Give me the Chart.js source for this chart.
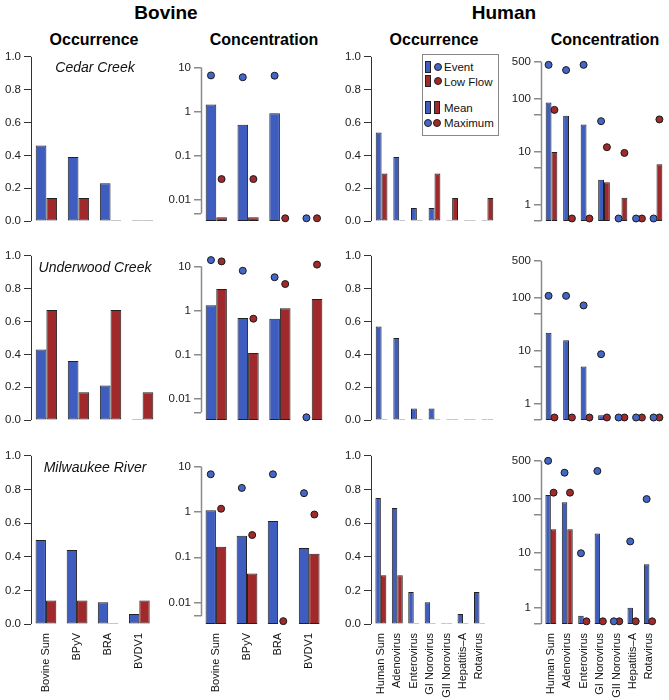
<!DOCTYPE html>
<html>
<head>
<meta charset="utf-8">
<script src="https://cdn.jsdelivr.net/npm/chart.js@4.4.1/dist/chart.umd.min.js"></script>
<style>
body { margin: 0; background: #fff; font-family: "Liberation Sans", Arial, sans-serif; }
#wrap { position: relative; width: 669px; height: 700px; overflow: hidden; }
canvas { position: absolute; }
.t { position: absolute; transform: translate(-50%, -50%); white-space: nowrap; color: #000; }
.big { font-size: 19px; font-weight: bold; }
.sub { font-size: 16px; font-weight: bold; }
.site { font-size: 14px; font-style: italic; color: #111; }
#legend { position: absolute; left: 422px; top: 54px; width: 75px; height: 80px; border: 1px solid #888; background: #fff; z-index: 5; font-size: 11.5px; color: #111; }
#legend span { position: absolute; }
.sw { width: 4px; border: 1px solid #222; }
.dot { width: 6px; height: 6px; border-radius: 50%; border: 1px solid #222; }
.lt { transform: translateY(-50%); white-space: nowrap; }
</style>
</head>
<body>
<div id="wrap">
  <div class="t big" style="left:166px; top:13px;">Bovine</div>
  <div class="t big" style="left:504px; top:13px;">Human</div>
  <div class="t sub" style="left:94px; top:40px;">Occurrence</div>
  <div class="t sub" style="left:264px; top:40px;">Concentration</div>
  <div class="t sub" style="left:434px; top:40px;">Occurrence</div>
  <div class="t sub" style="left:605px; top:40px;">Concentration</div>
  <div id="legend">
    <span class="sw" style="left:2px; top:6px; height:10px; background:#3E5DBE;"></span>
    <span class="dot" style="left:11px; top:8px; background:#4466C6;"></span>
    <span class="lt" style="left:21px; top:12px;">Event</span>
    <span class="sw" style="left:2px; top:20px; height:10px; background:#A0292B;"></span>
    <span class="dot" style="left:11px; top:22px; background:#A0292B;"></span>
    <span class="lt" style="left:21px; top:27px;">Low Flow</span>
    <span class="sw" style="left:2px; top:46px; height:11px; background:#3E5DBE;"></span>
    <span class="sw" style="left:11px; top:46px; height:11px; background:#A0292B;"></span>
    <span class="lt" style="left:21px; top:53px;">Mean</span>
    <span class="dot" style="left:1px; top:64px; background:#4466C6;"></span>
    <span class="dot" style="left:10px; top:64px; background:#A0292B;"></span>
    <span class="lt" style="left:21px; top:68px;">Maximum</span>
  </div>
</div>
<script>
// categories
const sites = ['Cedar Creek', 'Underwood Creek', 'Milwaukee River'];
const bovineNames = ['Bovine Sum', 'BPyV', 'BRA', 'BVDV1'];
const humanNames = ['Human Sum', 'Adenovirus', 'Enterovirus', 'GI Norovirus', 'GII Norovirus', 'Hepatitis\u2013A', 'Rotavirus'];

// tick labels
const occTicks = [0, 0.2, 0.4, 0.6, 0.8, 1.0];
const occLabels = ['0.0', '0.2', '0.4', '0.6', '0.8', '1.0'];
const bovConcTicks = [0.005, 0.01, 0.1, 1, 10];
const bovConcLabels = ['', '0.01', '0.1', '1', '10'];
const humConcTicks = [0.5, 1, 5, 10, 50, 100, 500];
const humConcLabels = ['', '1', '', '10', '', '100', '500'];

// bovine occurrence (one row per site)
const bovOccEvent = [[0.46, 0.39, 0.23, 0], [0.43, 0.36, 0.21, 0], [0.50, 0.44, 0.13, 0.06]];
const bovOccLow = [[0.14, 0.14, 0, 0], [0.67, 0.17, 0.67, 0.17], [0.14, 0.14, 0, 0.14]];

// bovine concentration
const bovMeanEvent = [[1.45, 0.51, 0.92, 0], [1.33, 0.68, 0.66, 0], [1.09, 0.30, 0.63, 0.16]];
const bovMeanLow = [[0.0041, 0.0041, 0, 0], [3.1, 0.11, 1.14, 1.84], [0.17, 0.044, 0, 0.12]];
const bovMaxEvent = [[6.6, 6.0, 6.5, 0.0039], [13.9, 8.0, 5.7, 0.0039], [6.8, 3.4, 6.8, 2.6]];
const bovMaxLow = [[0.030, 0.030, 0.0039, 0.0039], [13.0, 0.66, 4.0, 11], [1.18, 0.31, 0.0039, 0.88]];

// human occurrence
const humOccEvent = [[0.54, 0.39, 0.08, 0.08, 0, 0, 0], [0.57, 0.50, 0.07, 0.07, 0, 0, 0], [0.75, 0.69, 0.19, 0.13, 0, 0.06, 0.19]];
const humOccLow = [[0.29, 0, 0, 0.29, 0.14, 0, 0.14], [0, 0, 0, 0, 0, 0, 0], [0.29, 0.29, 0, 0, 0, 0, 0]];

// human concentration
const humMeanEvent = [[85, 48, 33, 3.0, 0, 0, 0], [22, 16, 5.1, 0.62, 0, 0, 0], [118, 87, 0.71, 23, 0, 1.0, 6.3]];
const humMeanLow = [[10, 0, 0, 2.7, 1.38, 0, 5.9], [0, 0, 0, 0, 0, 0, 0], [27.7, 27.7, 0, 0, 0, 0, 0]];
const humMaxEvent = [[436, 348, 436, 38, 0.56, 0.56, 0.56], [109, 109, 72, 8.7, 0.56, 0.56, 0.56], [500, 303, 10, 325, 0.56, 16.5, 99]];
const humMaxLow = [[62, 0.56, 0.56, 12.3, 9.6, 0.56, 41], [0.56, 0.56, 0.56, 0.56, 0.56, 0.56, 0.56], [130, 130, 0.56, 0.56, 0.56, 0.56, 0.56]];

const BLUE = '#3E5DBE', RED = '#A0292B', DOTBLUE = '#4466C6';
const COLS = [31, 201, 371, 541];
const ROWS = [55, 254, 454];
const PW = 127, PH = 170, YW = 44, PT = 8, PR = 4, PB = 6, XH = 76;
const SITE_Y = [67, 267, 467];

Chart.defaults.font.family = '"Liberation Sans", Arial, sans-serif';
Chart.defaults.color = '#222';

// R style axis: line only between first and last tick
const axisLine = {
    id: 'axisLine',
    afterDraw(chart, args, o) {
        const s = chart.scales.y;
        const px = s.ticks.map(t => s.getPixelForValue(t.value));
        const ctx = chart.ctx;
        const x = Math.round(s.right) + (o.width % 2 ? 0.5 : 0);
        ctx.save();
        ctx.strokeStyle = o.color;
        ctx.lineWidth = o.width;
        ctx.beginPath();
        ctx.moveTo(x, Math.min(...px));
        ctx.lineTo(x, Math.max(...px));
        ctx.stroke();
        ctx.restore();
    }
};

const wrap = document.getElementById('wrap');

function makePanel(col, row) {
    const human = col >= 2;
    const conc = col % 2 === 1;
    const names = human ? humanNames : bovineNames;
    const n = names.length;
    const ext = 0.04 * (3 * n - 1);
    const bottom = row === 2;

    const cv = document.createElement('canvas');
    cv.width = YW + PW + PR;
    cv.height = PT + PH + (bottom ? XH : PB);
    cv.style.left = (COLS[col] - YW) + 'px';
    cv.style.top = (ROWS[row] - PT) + 'px';
    wrap.appendChild(cv);

    let ev, low, maxEv, maxLow, ticks, labels, yType, yMin, yMax, axisColor, axisWidth;
    if (!conc) {
        ev = (human ? humOccEvent : bovOccEvent)[row];
        low = (human ? humOccLow : bovOccLow)[row];
        ticks = occTicks; labels = occLabels;
        yType = 'linear'; yMin = 0; yMax = 1;
        axisColor = '#333'; axisWidth = 1;
    } else if (human) {
        ev = humMeanEvent[row]; low = humMeanLow[row];
        maxEv = humMaxEvent[row]; maxLow = humMaxLow[row];
        ticks = humConcTicks; labels = humConcLabels;
        yType = 'logarithmic'; yMin = 0.5; yMax = 616;
        axisColor = '#8a8a8a'; axisWidth = 1.5;
    } else {
        ev = bovMeanEvent[row]; low = bovMeanLow[row];
        maxEv = bovMaxEvent[row]; maxLow = bovMaxLow[row];
        ticks = bovConcTicks; labels = bovConcLabels;
        yType = 'logarithmic'; yMin = 0.00337; yMax = 17.3;
        axisColor = '#8a8a8a'; axisWidth = 1.5;
    }

    const barStyle = { borderColor: '#222', borderWidth: 1, borderSkipped: false, minBarLength: 1, order: 1 };
    const datasets = [
        { type: 'bar', data: ev.map((v, i) => ({ x: 3 * i + 2, y: v })), backgroundColor: BLUE, ...barStyle },
        { type: 'bar', data: low.map((v, i) => ({ x: 3 * i + 2, y: v })), backgroundColor: RED, ...barStyle }
    ];
    if (conc) {
        const dot = { type: 'scatter', pointRadius: 3.5, pointBorderWidth: 1, pointBorderColor: '#1a1a1a', clip: false, order: 0 };
        datasets.push({ data: maxEv.map((v, i) => ({ x: 3 * i + 1.5, y: v })), pointBackgroundColor: DOTBLUE, ...dot });
        datasets.push({ data: maxLow.map((v, i) => ({ x: 3 * i + 2.5, y: v })), pointBackgroundColor: RED, ...dot });
    }

    new Chart(cv, {
        type: 'bar',
        data: { datasets },
        options: {
            responsive: false,
            animation: false,
            events: [],
            layout: { padding: { top: PT, right: PR, bottom: bottom ? 0 : PB, left: 0 } },
            datasets: { bar: { categoryPercentage: 2 / 3, barPercentage: 1 } },
            plugins: {
                legend: { display: false },
                tooltip: { enabled: false },
                axisLine: { color: axisColor, width: axisWidth }
            },
            scales: {
                x: {
                    type: 'linear',
                    min: 1 - ext,
                    max: 3 * n + ext,
                    bounds: 'data',
                    offset: false,
                    display: bottom,
                    afterBuildTicks: s => { s.ticks = names.map((_, i) => ({ value: 3 * i + 2 })); },
                    afterFit: s => { if (bottom) s.height = XH; },
                    grid: { display: false, drawTicks: false, offset: false },
                    border: { display: false },
                    ticks: {
                        autoSkip: false,
                        minRotation: 90,
                        maxRotation: 90,
                        padding: 9,
                        color: '#111',
                        font: { size: 11 },
                        callback: (v, i) => names[i]
                    }
                },
                y: {
                    type: yType,
                    min: yMin,
                    max: yMax,
                    bounds: 'data',
                    afterBuildTicks: s => { s.ticks = ticks.map(v => ({ value: v })); },
                    afterFit: s => { s.width = YW; },
                    border: { display: false },
                    grid: { drawOnChartArea: false, drawTicks: true, tickLength: 7, color: axisColor, lineWidth: axisWidth },
                    ticks: {
                        autoSkip: false,
                        padding: 3,
                        color: '#222',
                        font: { size: 11.5 },
                        callback: (v, i) => labels[i]
                    }
                }
            }
        },
        plugins: [axisLine]
    });
}

for (let r = 0; r < 3; r++) {
    for (let c = 0; c < 4; c++) makePanel(c, r);
    const lab = document.createElement('div');
    lab.className = 't site';
    lab.style.left = '95px';
    lab.style.top = SITE_Y[r] + 'px';
    lab.textContent = sites[r];
    wrap.appendChild(lab);
}
</script>
</body>
</html>
